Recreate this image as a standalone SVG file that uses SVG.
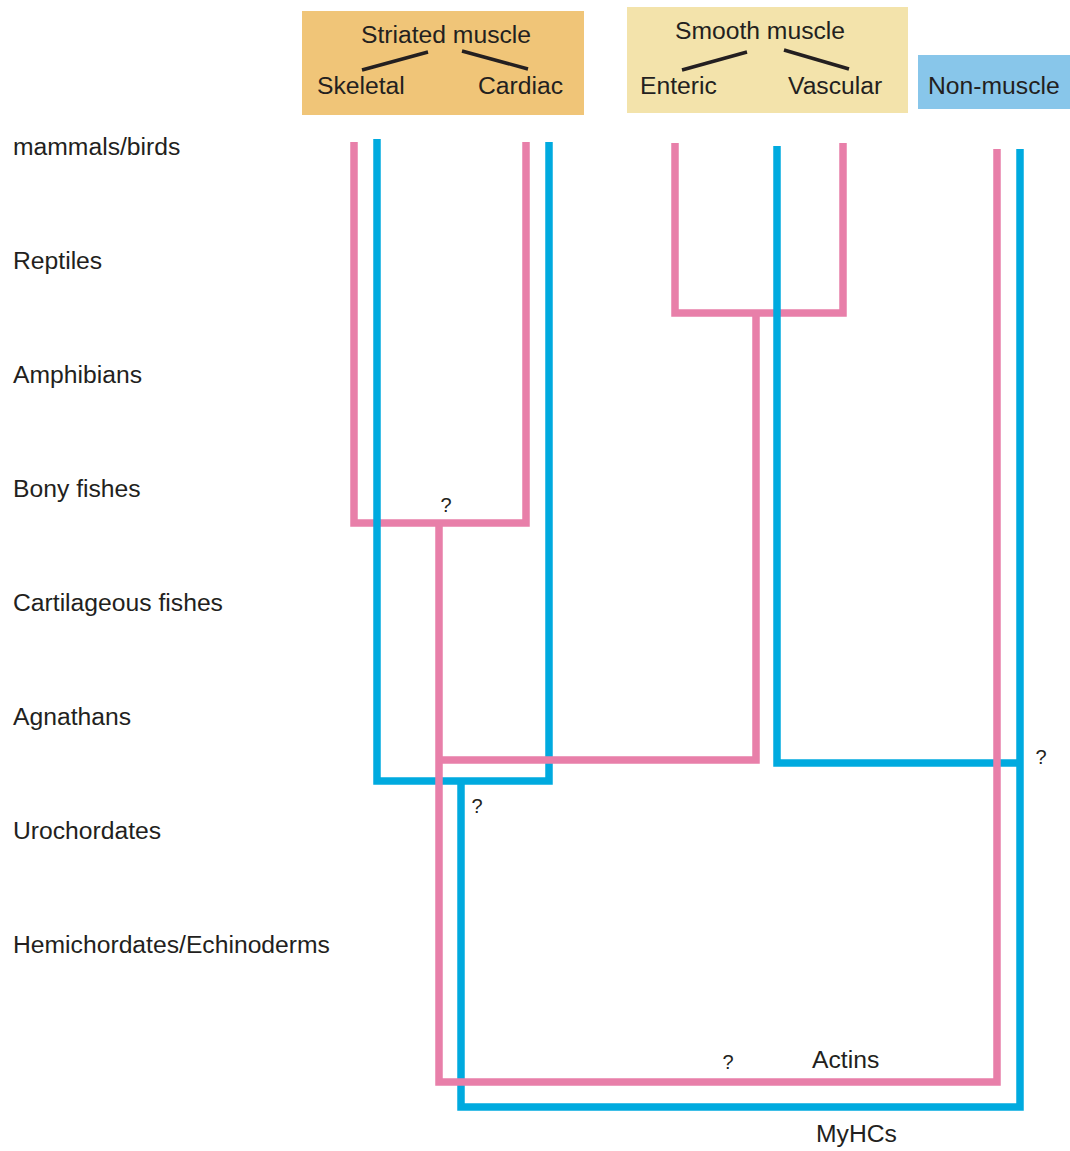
<svg xmlns="http://www.w3.org/2000/svg" width="1070" height="1151" viewBox="0 0 1070 1151">
<style>
text{font-family:"Liberation Sans",Arial,sans-serif;font-size:24.7px;fill:#231f20}
.q{font-size:20px}
.pk{fill:none;stroke:#e87fa9;stroke-width:7.5;stroke-linejoin:miter;stroke-linecap:butt}
.bl{fill:none;stroke:#00aadf;stroke-width:7.5;stroke-linejoin:miter;stroke-linecap:butt}
.br{stroke:#231f20;stroke-width:3.5}
</style>
<rect width="1070" height="1151" fill="#fff"/>
<g id="striated">
<rect x="302" y="11" width="282" height="104" fill="#f0c578"/>
<text x="446" y="43" text-anchor="middle">Striated muscle</text>
<line class="br" x1="362" y1="70" x2="428" y2="52"/>
<line class="br" x1="462" y1="51" x2="528" y2="69"/>
<text x="317" y="94">Skeletal</text>
<text x="478" y="94">Cardiac</text>
</g>
<g id="smooth">
<rect x="627" y="7" width="281" height="106" fill="#f3e3ab"/>
<text x="760" y="39" text-anchor="middle">Smooth muscle</text>
<line class="br" x1="682" y1="70" x2="747" y2="52"/>
<line class="br" x1="784" y1="50" x2="849" y2="69"/>
<text x="640" y="94">Enteric</text>
<text x="788" y="94">Vascular</text>
</g>
<g id="nonmuscle">
<rect x="918" y="55" width="152" height="54" fill="#88c6ea"/>
<text x="928" y="94">Non-muscle</text>
</g>
<g id="taxa">
<text x="13" y="155">mammals/birds</text>
<text x="13" y="269">Reptiles</text>
<text x="13" y="383">Amphibians</text>
<text x="13" y="497">Bony fishes</text>
<text x="13" y="611">Cartilageous fishes</text>
<text x="13" y="725">Agnathans</text>
<text x="13" y="839">Urochordates</text>
<text x="13" y="953">Hemichordates/Echinoderms</text>
</g>
<g id="connectors">
<path class="pk" d="M354,142 V523 H526 V142"/>
<path class="pk" d="M675,143 V313 H843 V143"/>
<path class="bl" d="M377,139 V781 H549 V142"/>
<path class="bl" d="M777,146 V763 H1020"/>
<path class="bl" d="M461,781 V1107 H1020 V149"/>
<path class="pk" d="M439,523 V1082 H997 V149"/>
<path class="pk" d="M439,760 H756 V313"/>
</g>
<g id="labels">
<text class="q" x="446" y="512" text-anchor="middle">?</text>
<text class="q" x="477" y="813" text-anchor="middle">?</text>
<text class="q" x="1041" y="764" text-anchor="middle">?</text>
<text class="q" x="728" y="1069" text-anchor="middle">?</text>
<text x="812" y="1068">Actins</text>
<text x="816" y="1142">MyHCs</text>
</g>
</svg>
